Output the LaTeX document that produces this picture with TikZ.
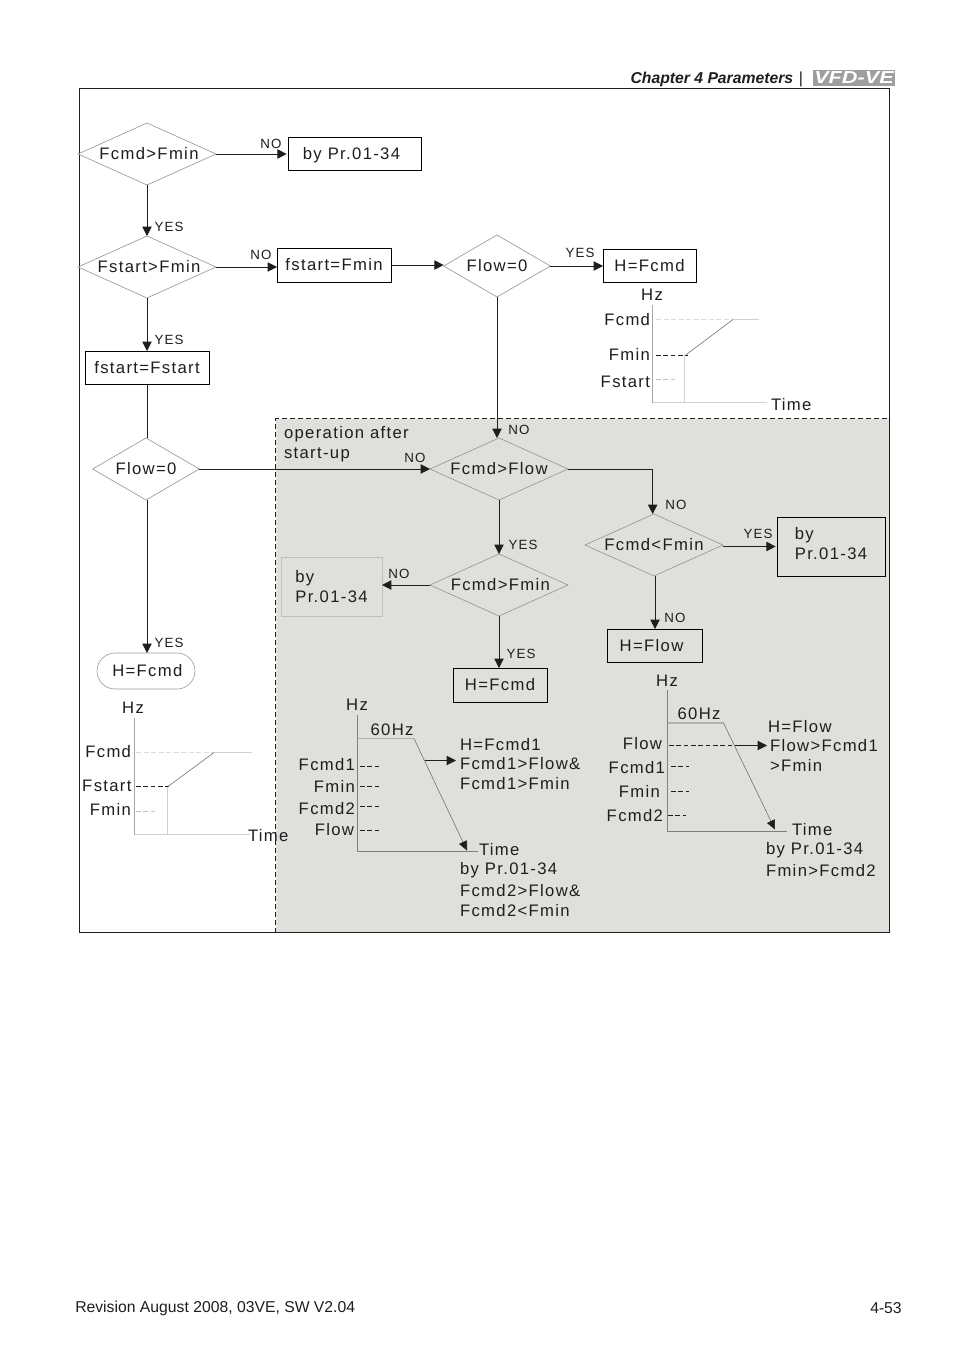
\documentclass[tikz,border=0pt]{standalone}
\usepackage{fontspec}
\setmainfont{Liberation Sans}[LetterSpace=8]
\newfontfamily\plainf{Liberation Sans}
\usetikzlibrary{shapes.geometric,arrows.meta}
\definecolor{panel}{HTML}{DFE0DC}
\definecolor{ink}{HTML}{1E1E1E}
\tikzset{
  x=0.75pt,y=-0.75pt,
  every node/.style={text=ink,font=\fontsize{12.5}{15}\selectfont},
  dia/.style={diamond,draw=gray!85,line width=0.45pt,inner sep=0pt,outer sep=0pt,aspect=2.2},
  dbig/.style={dia,minimum width=103.5pt,minimum height=46.5pt},
  dsmall/.style={dia,minimum width=80pt,minimum height=46.5pt},
  boxn/.style={draw=black,line width=0.75pt,inner sep=0pt,outer sep=0pt,align=left},
  lbl/.style={inner sep=0pt,outer sep=0pt,text height=8.9pt,text depth=0pt,yshift=-0.75pt},
  lw/.style={lbl,anchor=west},
  le/.style={lbl,anchor=east},
  tag/.style={inner sep=0pt,text height=7pt,text depth=0pt,yshift=-0.6pt,font=\fontsize{10}{12}\selectfont},
  conn/.style={draw=ink,line width=0.7pt,-{Triangle[length=7pt,width=7pt]}},
  seg/.style={draw=ink,line width=0.7pt},
  faint/.style={draw=black!18,line width=0.6pt},
  faintd/.style={draw=black!14,line width=0.6pt,dash pattern=on 3.75pt off 1.9pt},
  dk/.style={draw=ink,line width=0.6pt,dash pattern=on 3.6pt off 1.9pt},
  gd/.style={draw=black!25,line width=0.6pt,dash pattern=on 3.6pt off 1.9pt},
  ax/.style={draw=black!50,line width=0.6pt},
  ramp/.style={draw=black!55,line width=0.45pt,-{Triangle[length=7pt,width=6.5pt,color=ink]}},
}
\begin{document}
\begin{tikzpicture}
\path[use as bounding box,fill=white] (0,0) rectangle (954,1357);
% panel and frame
\fill[panel] (275.5,418.5) rectangle (889.5,932.5);
\draw[ink,line width=0.7pt,dash pattern=on 3.75pt off 2.25pt] (275.5,932.5) -- (275.5,418.5) -- (889.5,418.5);
\draw[ink,line width=0.75pt] (79.5,88.5) rectangle (889.5,932.5);
% header / footer
\node[anchor=east,inner sep=0pt,font=\plainf\bfseries\itshape\fontsize{11.8}{14}\selectfont] (head) at (793.5,79) {Chapter 4 Parameters};
\node[anchor=center,inner sep=0pt,font=\plainf\fontsize{12}{14}\selectfont] (headbar) at (801,79) {|};
\node[fill=black!38,minimum width=61.5pt,minimum height=12pt,inner sep=0pt,text=white,font=\plainf\bfseries\itshape\fontsize{13}{12}\selectfont] (logo) at (854,78) {\scalebox{1.25}[1]{VFD-VE}};
\node[anchor=west,inner sep=0pt,font=\plainf\fontsize{11.8}{14}\selectfont] (footl) at (75,1308) {Revision August 2008, 03VE, SW V2.04};
\node[anchor=east,inner sep=0pt,font=\plainf\fontsize{11.8}{14}\selectfont] (footr) at (902,1308) {4-53};
% flowchart nodes
\node[dbig] (d1) at (147,154) {\hspace*{3pt}Fcmd>Fmin};
\node[boxn,minimum width=99.75pt,minimum height=24.75pt,text height=8.9pt,text depth=0pt] (b1) at (354.5,154) {\hspace*{-4.5pt}by Pr.01-34};
\node[dbig] (d2) at (147,267) {\hspace*{3pt}Fstart>Fmin};
\node[boxn,minimum width=85.5pt,minimum height=25.5pt] (b2) at (334,265) {fstart=Fmin};
\node[dsmall] (d3) at (497,266) {Flow=0};
\node[boxn,minimum width=69.75pt,minimum height=24.75pt] (b3) at (649.5,265.5) {H=Fcmd};
\node[boxn,minimum width=93pt,minimum height=24.75pt] (b4) at (147,367.5) {fstart=Fstart};
\node[dsmall] (d4) at (146,469) {Flow=0};
\node[dbig] (d5) at (499,469) {Fcmd>Flow};
\node[dbig] (d6) at (499,585) {\hspace*{2pt}Fcmd>Fmin};
\node[draw=black!25,line width=0.6pt,inner sep=0pt,outer sep=0pt,align=left,minimum width=75.75pt,minimum height=44.25pt] (b6) at (331.5,586.5) {by\\Pr.01-34};
\node[boxn,minimum width=70.5pt,minimum height=25.5pt] (b7) at (500,685) {H=Fcmd};
\node[dbig] (d7) at (654,545) {Fcmd<Fmin};
\node[boxn,minimum width=81pt,minimum height=44.25pt] (b8) at (831,546.5) {by\\Pr.01-34\rule[-4pt]{0pt}{0pt}};
\node[boxn,minimum width=71.25pt,minimum height=24.75pt] (b9) at (654.5,645.5) {\hspace*{-4.5pt}H=Flow};
\node[draw=black!40,line width=0.45pt,rounded corners=13.5pt,inner sep=0pt,outer sep=0pt,minimum width=73.5pt,minimum height=27pt] (t1) at (146,671) {\hspace*{2pt}H=Fcmd};
% connectors
\draw[conn,shorten >=1pt] (d1.east) -- (b1.west);
\draw[conn] (d1.south) -- (d2.north);
\draw[conn] (d2.east) -- (d2.east -| b2.west);
\draw[conn] (d2.south) -- (d2.south |- b4.north);
\draw[conn] (b2.east) -- (b2.east -| d3.west);
\draw[conn] (d3.east) -- (d3.east -| b3.west);
\draw[conn] (d3.south) -- (d3.south |- d5.north);
\draw[seg] (b4.south) -- (b4.south |- d4.north);
\draw[conn] (d4.east) -- (d5.west);
\draw[conn] (b4.south |- d4.south) -- (b4.south |- t1.north);
\draw[conn] (d5.south) -- (d6.north);
\draw[conn] (d6.west) -- (d6.west -| b6.east);
\draw[conn] (d6.south) -- (d6.south |- b7.north);
\draw[conn] (d5.east) -| ([xshift=-1pt]d7.north);
\draw[conn,shorten >=1pt] (d7.east |- b8.west) -- (b8.west);
\draw[conn] ([xshift=0.75pt]d7.south) -- ([xshift=0.75pt]d7.south |- b9.north);
% branch tags
\node[tag] (n1) at (271,143) {NO};
\node[tag] (y1) at (169,226) {YES};
\node[tag] (n2) at (261,254) {NO};
\node[tag] (y2) at (580,252) {YES};
\node[tag] (y3) at (169,339) {YES};
\node[tag] (n3) at (415,457) {NO};
\node[tag] (n4) at (519,429) {NO};
\node[tag] (y4) at (523,544) {YES};
\node[tag] (n5) at (399,573) {NO};
\node[tag] (y5) at (521,653) {YES};
\node[tag] (n6) at (676,504) {NO};
\node[tag] (y6) at (758,533) {YES};
\node[tag] (n7) at (675,617) {NO};
\node[tag] (y7) at (169,642) {YES};
% panel caption
\node[lw] (c1) at (284,432) {operation after};
\node[lw] (c2) at (284,452) {start-up};
% chart top right
\node[lbl] (hza) at (652,294) {Hz};
\node[le] (ca1) at (650,319) {Fcmd};
\node[le] (ca2) at (650,354) {Fmin};
\node[le] (ca3) at (650,381) {Fstart};
\node[lw] (ca4) at (771,404) {Time};
\draw[black!35,line width=0.6pt] (652.5,305) -- (652.5,402.5);
\draw[faint] (652.5,402.5) -- (767,402.5);
\draw[faint] (684.5,355) -- (684.5,402.5);
\draw[faintd] (656,319.5) -- (733,319.5);
\draw[faint] (733,319.5) -- (759,319.5);
\draw[dk] (656,355.5) -- (688,355.5);
\draw[draw=black!55,line width=0.45pt] (685,355.5) -- (733,319.5);
\draw[gd] (656,379.5) -- (675,379.5);
% chart left
\node[lbl] (hzb) at (133,707) {Hz};
\node[le] (cb1) at (131,751) {Fcmd};
\node[le] (cb2) at (131.5,785) {Fstart};
\node[le] (cb3) at (131,809) {Fmin};
\draw[black!35,line width=0.6pt] (134.5,718) -- (134.5,834.5);
\draw[faint] (134.5,834.5) -- (250,834.5);
\draw[faint] (167.5,786) -- (167.5,834.5);
\draw[faintd] (136,752.5) -- (214,752.5);
\draw[faint] (214,752.5) -- (252,752.5);
\draw[dk] (136,786.5) -- (169,786.5);
\draw[draw=black!55,line width=0.45pt] (168,786.5) -- (214,752.5);
\draw[gd] (136,811.5) -- (156,811.5);
\node[lw] (cb4) at (248,835) {Time};
% chart middle
\node[lbl] (hzc) at (357,704) {Hz};
\node[lbl] (hzc2) at (392,729) {60Hz};
\node[le] (cc1) at (355,764) {Fcmd1};
\node[le] (cc2) at (355,786) {Fmin};
\node[le] (cc3) at (355,808) {Fcmd2};
\node[le] (cc4) at (354,829) {Flow};
\draw[ax] (357.5,715) -- (357.5,851.5) -- (478,851.5);
\draw[draw=black!30,line width=0.6pt] (357.5,738.5) -- (414,738.5);
\draw[ramp] (414,738.5) -- (467,850.5);
\draw[conn] (425,760.5) -- (456,760.5);
\draw[dk] (360,766.5) -- (380,766.5);
\draw[dk] (360,786.5) -- (380,786.5);
\draw[dk] (360,806.5) -- (380,806.5);
\draw[dk] (360,830.5) -- (380,830.5);
\node[lw] (cc5) at (460,744) {H=Fcmd1};
\node[lw] (cc6) at (460,763) {Fcmd1>Flow\&};
\node[lw] (cc7) at (460,783) {Fcmd1>Fmin};
\node[lw] (cc8) at (479,849) {Time};
\node[lw] (cc9) at (460,868) {by Pr.01-34};
\node[lw] (cc10) at (460,890) {Fcmd2>Flow\&};
\node[lw] (cc11) at (460,910) {Fcmd2<Fmin};
% chart right
\node[lbl] (hzd) at (667,680) {Hz};
\node[lbl] (hzd2) at (699,713) {60Hz};
\node[le] (cd1) at (662,743) {Flow};
\node[le] (cd2) at (665,767) {Fcmd1};
\node[le] (cd3) at (660,791) {Fmin};
\node[le] (cd4) at (663,815) {Fcmd2};
\draw[ax] (667.5,690) -- (667.5,831.5) -- (787,831.5);
\draw[draw=black!30,line width=0.9pt] (667.5,723) -- (723.5,723);
\draw[ramp] (723.5,723) -- (775,829.5);
\draw[dk] (669,745.5) -- (735,745.5);
\draw[conn] (735,745.5) -- (767,745.5);
\draw[dk] (671,766.5) -- (689,766.5);
\draw[dk] (671,791.5) -- (689,791.5);
\draw[dk] (668,815.5) -- (686,815.5);
\node[lw] (cd5) at (768,726) {H=Flow};
\node[lw] (cd6) at (770,745) {Flow>Fcmd1};
\node[lw] (cd7) at (770,765) {>Fmin};
\node[lw] (cd8) at (792,829) {Time};
\node[lw] (cd9) at (766,848) {by Pr.01-34};
\node[lw] (cd10) at (766,870) {Fmin>Fcmd2};
\end{tikzpicture}
\end{document}
